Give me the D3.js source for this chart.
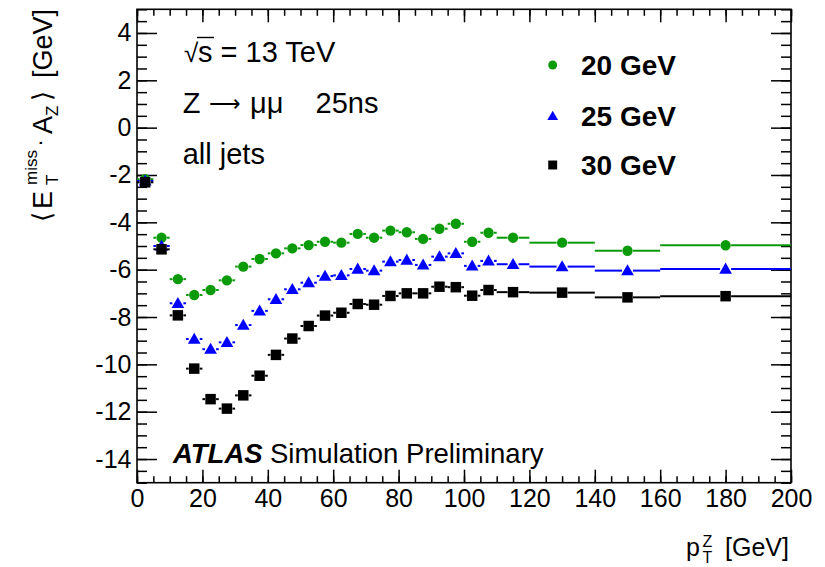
<!DOCTYPE html>
<html>
<head>
<meta charset="utf-8">
<script src="https://cdn.jsdelivr.net/npm/d3@7"></script>
<style>
  html, body { margin: 0; padding: 0; background: #fff; }
  svg { display: block; }
  text { font-family: "Liberation Sans", Arial, Helvetica, sans-serif; fill: #000; }
</style>
</head>
<body>
<svg id="chart" width="825" height="567"></svg>
<script>
// ---------------- data ----------------
const binEdges = [0, 5, 10, 15, 20, 25, 30, 35, 40, 45, 50, 55, 60, 65, 70, 75, 80, 85, 90, 95, 100, 105, 110, 120, 140, 160, 200];
const seriesNames = ["20 GeV", "25 GeV", "30 GeV"];
const values20 = [-2.18, -4.65, -6.40, -7.07, -6.86, -6.45, -5.87, -5.55, -5.31, -5.10, -4.96, -4.82, -4.86, -4.49, -4.65, -4.35, -4.42, -4.70, -4.27, -4.06, -4.82, -4.44, -4.65, -4.86, -5.20, -4.97];
const values25 = [-2.25, -5.00, -7.42, -8.93, -9.36, -9.07, -8.34, -7.74, -7.25, -6.83, -6.55, -6.27, -6.24, -5.97, -6.04, -5.66, -5.59, -5.80, -5.45, -5.31, -5.84, -5.63, -5.77, -5.87, -6.04, -5.97];
const values30 = [-2.31, -5.14, -7.93, -10.18, -11.47, -11.87, -11.31, -10.48, -9.60, -8.91, -8.38, -7.94, -7.82, -7.45, -7.48, -7.11, -7.00, -7.00, -6.72, -6.74, -7.10, -6.86, -6.95, -6.97, -7.17, -7.12];
const xTickValues = [0, 20, 40, 60, 80, 100, 120, 140, 160, 180, 200];
const yTickValues = [-14, -12, -10, -8, -6, -4, -2, 0, 2, 4];
const xDomain = [0, 200];
const yDomain = [-15, 5];

// ---------------- layout ----------------
const svg = d3.select("#chart");
const L = 137, R = 791, T = 9.3, B = 482.7;
const x = d3.scaleLinear().domain(xDomain).range([L, R]);
const y = d3.scaleLinear().domain(yDomain).range([B, T]);

const colors = ["#0a9a0a", "#0000ff", "#000000"];
const symbols = [d3.symbolCircle, d3.symbolTriangle, d3.symbolSquare];
const symSizes = [84, 70, 110];
const legSizes = [62, 50, 80];

// ---------------- axes ----------------
const minorX = d3.range(0, 201, 5);
const minorY = d3.range(-15, 5.01, 0.5);

function styleAxis(g) {
  g.select(".domain").remove();
  g.selectAll(".tick line").attr("stroke", "#000").attr("stroke-width", 1.5);
}

// bottom
svg.append("g").attr("transform", `translate(0,${B})`)
  .call(d3.axisBottom(x).tickValues(minorX).tickSizeInner(-6.5).tickSizeOuter(0).tickFormat(""))
  .call(styleAxis);
const xAx = svg.append("g").attr("transform", `translate(0,${B})`)
  .call(d3.axisBottom(x).tickValues(xTickValues).tickSizeInner(-13).tickSizeOuter(0).tickPadding(7).tickFormat(d3.format("d")))
  .call(styleAxis);
xAx.selectAll("text").attr("font-size", 25).attr("font-family", "Liberation Sans, Arial, sans-serif").attr("fill", "#000");
// top
svg.append("g").attr("transform", `translate(0,${T})`)
  .call(d3.axisTop(x).tickValues(minorX).tickSizeInner(-6.5).tickSizeOuter(0).tickFormat(""))
  .call(styleAxis);
svg.append("g").attr("transform", `translate(0,${T})`)
  .call(d3.axisTop(x).tickValues(xTickValues).tickSizeInner(-13).tickSizeOuter(0).tickFormat(""))
  .call(styleAxis);
// left
svg.append("g").attr("transform", `translate(${L},0)`)
  .call(d3.axisLeft(y).tickValues(minorY).tickSizeInner(-10).tickSizeOuter(0).tickFormat(""))
  .call(styleAxis);
const yAx = svg.append("g").attr("transform", `translate(${L},0)`)
  .call(d3.axisLeft(y).tickValues(yTickValues).tickSizeInner(-20).tickSizeOuter(0).tickPadding(5.5).tickFormat(d3.format("d")))
  .call(styleAxis);
yAx.selectAll("text").attr("font-size", 25).attr("font-family", "Liberation Sans, Arial, sans-serif").attr("fill", "#000")
  .text(d => String(d).replace("\u2212", "-"));
// right
svg.append("g").attr("transform", `translate(${R},0)`)
  .call(d3.axisRight(y).tickValues(minorY).tickSizeInner(-10).tickSizeOuter(0).tickFormat(""))
  .call(styleAxis);
svg.append("g").attr("transform", `translate(${R},0)`)
  .call(d3.axisRight(y).tickValues(yTickValues).tickSizeInner(-20).tickSizeOuter(0).tickFormat(""))
  .call(styleAxis);

// frame
svg.append("rect").attr("x", L).attr("y", T).attr("width", R - L).attr("height", B - T)
  .attr("fill", "none").attr("stroke", "#000").attr("stroke-width", 1.6);

// ---------------- data marks ----------------
const allSeries = [values20, values25, values30];
const gap = 5.5;
allSeries.forEach((vals, si) => {
  const g = svg.append("g");
  const pts = vals.map((v, i) => {
    const lo = binEdges[i], hi = binEdges[i + 1];
    return { lo, hi, c: (lo + hi) / 2, v };
  });
  pts.forEach(p => {
    const cx = x(p.c), cy = y(p.v);
    const segs = [[x(p.lo), cx - gap], [cx + gap, x(p.hi)]];
    segs.forEach(([a, b]) => {
      if (b > a) g.append("line").attr("x1", a).attr("x2", b).attr("y1", cy).attr("y2", cy)
        .attr("stroke", colors[si]).attr("stroke-width", 2);
    });
  });
  g.selectAll("path.m").data(pts).join("path").attr("class", "m")
    .attr("d", d3.symbol().type(symbols[si]).size(symSizes[si]))
    .attr("transform", p => `translate(${x(p.c)},${y(p.v) + (si === 1 ? 1 : 0)})`)
    .attr("fill", colors[si]);
});

// ---------------- legend ----------------
const legY = [65, 116, 165];
seriesNames.forEach((name, i) => {
  svg.append("path").attr("d", d3.symbol().type(symbols[i]).size(legSizes[i])())
    .attr("transform", `translate(552.7,${legY[i] + (i === 1 ? 1 : 0)})`).attr("fill", colors[i]);
  svg.append("text").attr("x", 581).attr("y", legY[i] + 10).attr("font-size", 28).attr("font-weight", "bold")
    .text(name);
});

// ---------------- texts ----------------
svg.append("text").attr("x", 184).attr("y", 62.3).attr("font-size", 26)
  .attr("font-family", "DejaVu Sans, sans-serif").text("\u221A");
svg.append("text").attr("x", 198).attr("y", 62.3).attr("font-size", 29).text("s = 13 TeV");
svg.append("line").attr("x1", 197).attr("x2", 214).attr("y1", 37.5).attr("y2", 37.5).attr("stroke", "#000").attr("stroke-width", 1.4);

svg.append("text").attr("x", 182.7).attr("y", 113.3).attr("font-size", 29).text("Z");
svg.append("text").attr("x", 209).attr("y", 111).attr("font-size", 22).attr("font-family", "DejaVu Sans, sans-serif").text("\u27F6");
svg.append("text").attr("x", 250).attr("y", 113.3).attr("font-size", 29).attr("font-family", "Liberation Serif, Times New Roman, serif").text("\u03BC\u03BC");
svg.append("text").attr("x", 315.5).attr("y", 113.3).attr("font-size", 29).text("25ns");
svg.append("text").attr("x", 182.7).attr("y", 164).attr("font-size", 29).text("all jets");

svg.append("text").attr("x", 173).attr("y", 462.7).attr("font-size", 27.5)
  .attr("font-weight", "bold").attr("font-style", "italic").text("ATLAS");
svg.append("text").attr("x", 270).attr("y", 462.7).attr("font-size", 27.5).text("Simulation Preliminary");

// x title
svg.append("text").attr("x", 686).attr("y", 556).attr("font-size", 25).text("p");
svg.append("text").attr("x", 702.5).attr("y", 547).attr("font-size", 16).text("Z");
svg.append("text").attr("x", 702.5).attr("y", 563).attr("font-size", 16).text("T");
svg.append("text").attr("x", 789).attr("y", 556).attr("font-size", 25).attr("text-anchor", "end").text("[GeV]");

// y title (rotated)
const yt = svg.append("g").attr("transform", "translate(52,222) rotate(-90)");
yt.append("text").attr("x", 0).attr("y", -1).attr("font-size", 26).attr("font-family", "DejaVu Sans, sans-serif").text("\u27E8");
yt.append("text").attr("x", 13).attr("y", 0).attr("font-size", 27).text("E");
yt.append("text").attr("x", 37).attr("y", -15).attr("font-size", 17).text("miss");
yt.append("text").attr("x", 37).attr("y", 6).attr("font-size", 17).text("T");
yt.append("text").attr("x", 76).attr("y", -10).attr("font-size", 22).text(".");
yt.append("text").attr("x", 88).attr("y", 0).attr("font-size", 27).text("A");
yt.append("text").attr("x", 106).attr("y", 6).attr("font-size", 17).text("Z");
yt.append("text").attr("x", 121).attr("y", -1).attr("font-size", 26).attr("font-family", "DejaVu Sans, sans-serif").text("\u27E9");
yt.append("text").attr("x", 144).attr("y", 0).attr("font-size", 27).text("[GeV]");
</script>
</body>
</html>
